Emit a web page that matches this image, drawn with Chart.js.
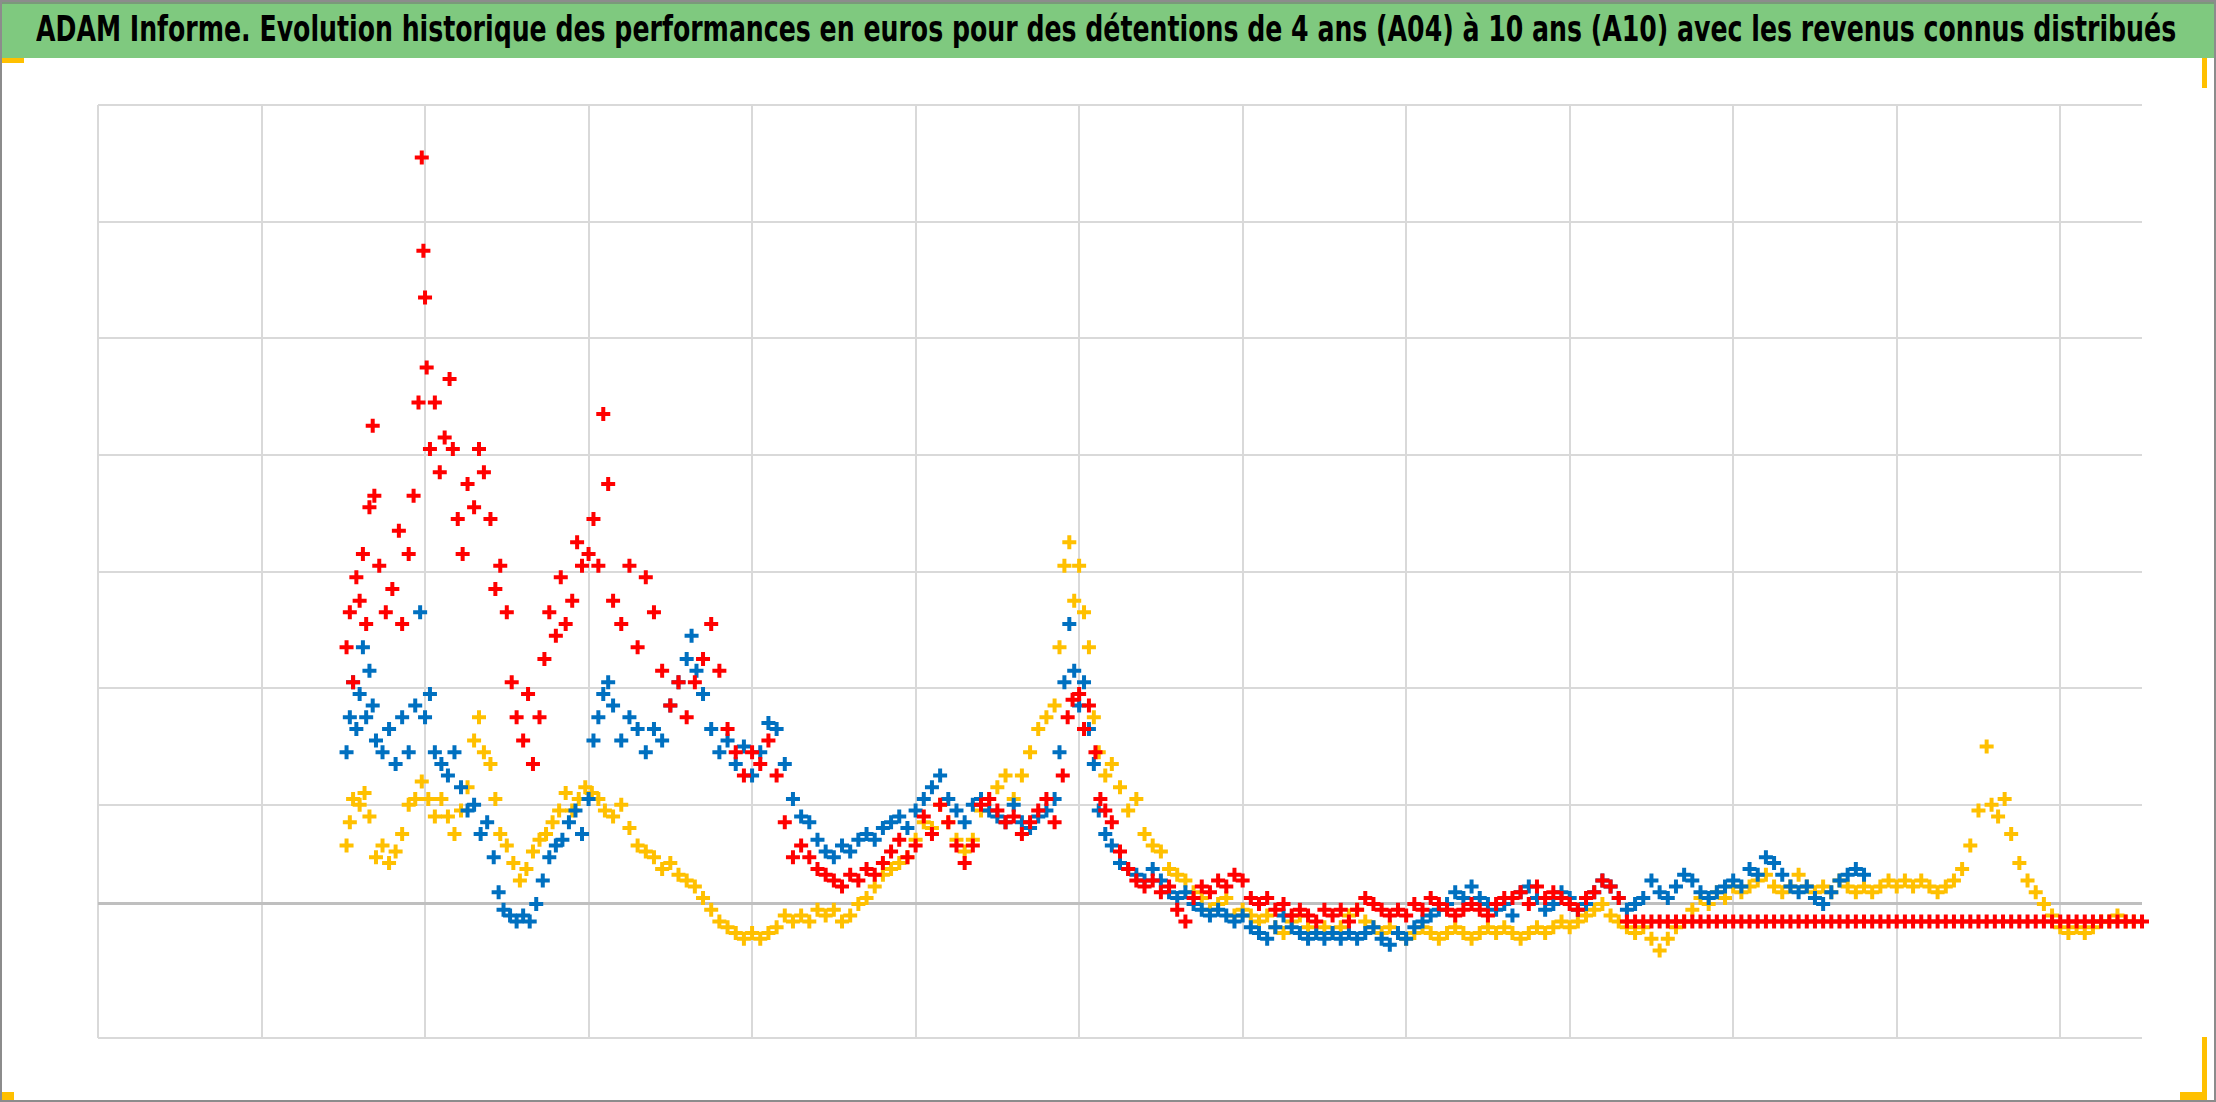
<!DOCTYPE html>
<html>
<head>
<meta charset="utf-8">
<script src="https://cdn.jsdelivr.net/npm/chart.js@4/dist/chart.umd.min.js"></script>
<style>
  html, body { margin: 0; padding: 0; background: #fff; }
  #page { position: relative; width: 2216px; height: 1102px; overflow: hidden; box-sizing: border-box; border: 2px solid #8c8c8c; }
  #title { position: absolute; left: 0; top: 0; width: 2216px; height: 56px; background: #7fc97f; border-top: 2px solid #7a9a7a; box-sizing: border-box; }
  #titleText { position: absolute; left: 34px; top: 4px; white-space: nowrap; font-family: "DejaVu Sans Condensed", "DejaVu Sans", sans-serif; font-weight: bold; font-size: 36px; color: #000; transform-origin: 0 0; }
  .mark { position: absolute; background: #ffc000; }
  #plot { position: absolute; left: 85px; top: 92px; width: 2066px; height: 955px; }
</style>
</head>
<body>
<div id="page">
  <div id="title"><div id="titleText">ADAM Informe. Evolution historique des performances en euros pour des détentions de 4 ans (A04) à 10 ans (A10) avec les revenus connus distribués</div></div>
  <div class="mark" style="left:0;top:56px;width:22px;height:5px"></div>
  <div class="mark" style="left:2200px;top:56px;width:5px;height:30px"></div>
  <div class="mark" style="left:2178px;top:1090px;width:27px;height:8px"></div>
  <div class="mark" style="left:2200px;top:1035px;width:5px;height:60px"></div>
  <div class="mark" style="left:0;top:1090px;width:12px;height:8px"></div>
  <div id="plot"><canvas id="chart"></canvas></div>
</div>
<script>
const yTicks = [-1.15, 0, 0.85, 1.85, 2.85, 3.85, 4.85, 5.85, 6.85]

const redPoints = [[1.52,2.2],[1.54,2.5],[1.56,1.9],[1.58,2.8],[1.6,2.6],[1.62,3.0],[1.64,2.4],[1.66,3.4],[1.68,4.1],[1.69,3.5],[1.72,2.9],[1.76,2.5],[1.8,2.7],[1.84,3.2],[1.86,2.4],[1.9,3.0],[1.93,3.5],[1.96,4.3],[1.98,6.4],[1.99,5.6],[2.0,5.2],[2.01,4.6],[2.03,3.9],[2.06,4.3],[2.09,3.7],[2.12,4.0],[2.15,4.5],[2.17,3.9],[2.2,3.3],[2.23,3.0],[2.26,3.6],[2.3,3.4],[2.33,3.9],[2.36,3.7],[2.4,3.3],[2.43,2.7],[2.46,2.9],[2.5,2.5],[2.53,1.9],[2.56,1.6],[2.6,1.4],[2.63,1.8],[2.66,1.2],[2.7,1.6],[2.73,2.1],[2.76,2.5],[2.8,2.3],[2.83,2.8],[2.86,2.4],[2.9,2.6],[2.93,3.1],[2.96,2.9],[3.0,3.0],[3.03,3.3],[3.06,2.9],[3.09,4.2],[3.12,3.6],[3.15,2.6],[3.2,2.4],[3.25,2.9],[3.3,2.2],[3.35,2.8],[3.4,2.5],[3.45,2.0],[3.5,1.7],[3.55,1.9],[3.6,1.6],[3.65,1.9],[3.7,2.1],[3.75,2.4],[3.8,2.0],[3.85,1.5],[3.9,1.3],[3.95,1.1],[4.0,1.3],[4.05,1.2],[4.1,1.4],[4.15,1.1],[4.2,0.7],[4.25,0.4],[4.3,0.5],[4.35,0.4],[4.4,0.3],[4.45,0.25],[4.5,0.2],[4.55,0.15],[4.6,0.25],[4.65,0.2],[4.7,0.3],[4.75,0.25],[4.8,0.35],[4.85,0.45],[4.9,0.55],[4.95,0.4],[5.0,0.5],[5.05,0.75],[5.1,0.6],[5.15,0.85],[5.2,0.7],[5.25,0.5],[5.3,0.35],[5.35,0.5],[5.4,0.85],[5.45,0.9],[5.5,0.8],[5.55,0.7],[5.6,0.75],[5.65,0.6],[5.7,0.7],[5.75,0.8],[5.8,0.9],[5.85,0.7],[5.9,1.1],[5.93,1.6],[5.96,1.75],[6.0,1.8],[6.03,1.5],[6.06,1.7],[6.1,1.3],[6.13,0.9],[6.16,0.8],[6.2,0.7],[6.25,0.45],[6.3,0.3],[6.35,0.2],[6.4,0.15],[6.45,0.2],[6.5,0.1],[6.55,0.15],[6.6,-0.05],[6.65,-0.15],[6.7,0.05],[6.75,0.15],[6.8,0.1],[6.85,0.2],[6.9,0.15],[6.95,0.25],[7.0,0.2],[7.05,0.05],[7.1,0.0],[7.15,0.05],[7.2,-0.05],[7.25,0.0],[7.3,-0.1],[7.35,-0.05],[7.4,-0.1],[7.45,-0.15],[7.5,-0.05],[7.55,-0.1],[7.6,-0.05],[7.65,-0.15],[7.7,-0.05],[7.75,0.05],[7.8,0.0],[7.85,-0.05],[7.9,-0.1],[7.95,-0.05],[8.0,-0.1],[8.05,0.0],[8.1,-0.05],[8.15,0.05],[8.2,0.0],[8.25,-0.05],[8.3,-0.1],[8.35,-0.05],[8.4,0.0],[8.45,-0.05],[8.5,-0.1],[8.55,0.0],[8.6,0.05],[8.65,0.05],[8.7,0.1],[8.75,0.0],[8.8,0.15],[8.85,0.05],[8.9,0.1],[8.95,0.05],[9.0,0.0],[9.05,-0.05],[9.1,0.05],[9.15,0.1],[9.2,0.2],[9.25,0.15],[9.3,0.05],
  [9.35,-0.15],[9.4,-0.15],[9.45,-0.15],[9.5,-0.15],[9.55,-0.15],[9.6,-0.15],[9.65,-0.15],[9.7,-0.15],[9.75,-0.15],[9.8,-0.15],[9.85,-0.15],[9.9,-0.15],[9.95,-0.15],[10.0,-0.15],[10.05,-0.15],[10.1,-0.15],[10.15,-0.15],[10.2,-0.15],[10.25,-0.15],[10.3,-0.15],[10.35,-0.15],[10.4,-0.15],[10.45,-0.15],[10.5,-0.15],[10.55,-0.15],[10.6,-0.15],[10.65,-0.15],[10.7,-0.15],[10.75,-0.15],[10.8,-0.15],[10.85,-0.15],[10.9,-0.15],[10.95,-0.15],[11.0,-0.15],[11.05,-0.15],[11.1,-0.15],[11.15,-0.15],[11.2,-0.15],[11.25,-0.15],[11.3,-0.15],[11.35,-0.15],[11.4,-0.15],[11.45,-0.15],[11.5,-0.15],[11.55,-0.15],[11.6,-0.15],[11.65,-0.15],[11.7,-0.15],[11.75,-0.15],[11.8,-0.15],[11.85,-0.15],[11.9,-0.15],[11.95,-0.15],[12.0,-0.15],[12.05,-0.15],[12.1,-0.15],[12.15,-0.15],[12.2,-0.15],[12.25,-0.15],[12.3,-0.15],[12.35,-0.15],[12.4,-0.15],[12.45,-0.15],[12.5,-0.15]]

const bluePoints = [[1.52,1.3],[1.54,1.6],[1.56,1.9],[1.58,1.5],[1.6,1.8],[1.62,2.2],[1.64,1.6],[1.66,2.0],[1.68,1.7],[1.7,1.4],[1.74,1.3],[1.78,1.5],[1.82,1.2],[1.86,1.6],[1.9,1.3],[1.94,1.7],[1.97,2.5],[2.0,1.6],[2.03,1.8],[2.06,1.3],[2.1,1.2],[2.14,1.1],[2.18,1.3],[2.22,1.0],[2.26,0.8],[2.3,0.85],[2.34,0.6],[2.38,0.7],[2.42,0.4],[2.45,0.1],[2.48,-0.05],[2.52,-0.1],[2.56,-0.15],[2.6,-0.1],[2.64,-0.15],[2.68,0.0],[2.72,0.2],[2.76,0.4],[2.8,0.5],[2.84,0.55],[2.88,0.7],[2.92,0.8],[2.96,0.6],[3.0,0.9],[3.03,1.4],[3.06,1.6],[3.09,1.8],[3.12,1.9],[3.15,1.7],[3.2,1.4],[3.25,1.6],[3.3,1.5],[3.35,1.3],[3.4,1.5],[3.45,1.4],[3.5,1.7],[3.55,1.9],[3.6,2.1],[3.63,2.3],[3.66,2.0],[3.7,1.8],[3.75,1.5],[3.8,1.3],[3.85,1.4],[3.9,1.2],[3.95,1.35],[4.0,1.1],[4.05,1.3],[4.1,1.55],[4.15,1.5],[4.2,1.2],[4.25,0.9],[4.3,0.75],[4.35,0.7],[4.4,0.55],[4.45,0.45],[4.5,0.4],[4.55,0.5],[4.6,0.45],[4.65,0.55],[4.7,0.6],[4.75,0.55],[4.8,0.65],[4.85,0.7],[4.9,0.75],[4.95,0.65],[5.0,0.8],[5.05,0.9],[5.1,1.0],[5.15,1.1],[5.2,0.9],[5.25,0.8],[5.3,0.7],[5.35,0.85],[5.4,0.9],[5.45,0.8],[5.5,0.75],[5.55,0.7],[5.6,0.85],[5.65,0.7],[5.7,0.65],[5.75,0.75],[5.8,0.8],[5.85,0.9],[5.88,1.3],[5.91,1.9],[5.94,2.4],[5.97,2.0],[6.0,1.7],[6.03,1.9],[6.06,1.5],[6.09,1.2],[6.12,0.8],[6.16,0.6],[6.2,0.5],[6.25,0.35],[6.3,0.3],[6.35,0.25],[6.4,0.2],[6.45,0.3],[6.5,0.2],[6.55,0.1],[6.6,0.05],[6.65,0.1],[6.7,0.0],[6.75,-0.05],[6.8,-0.1],[6.85,-0.05],[6.9,-0.1],[6.95,-0.15],[7.0,-0.1],[7.05,-0.2],[7.1,-0.25],[7.15,-0.3],[7.2,-0.2],[7.25,-0.1],[7.3,-0.2],[7.35,-0.25],[7.4,-0.3],[7.45,-0.25],[7.5,-0.3],[7.55,-0.25],[7.6,-0.3],[7.65,-0.25],[7.7,-0.3],[7.75,-0.25],[7.8,-0.2],[7.85,-0.3],[7.9,-0.35],[7.95,-0.25],[8.0,-0.3],[8.05,-0.2],[8.1,-0.15],[8.15,-0.1],[8.2,-0.05],[8.25,0.0],[8.3,0.1],[8.35,0.05],[8.4,0.15],[8.45,0.05],[8.5,0.0],[8.55,-0.05],[8.6,0.0],[8.65,-0.1],[8.7,0.1],[8.75,0.15],[8.8,0.05],[8.85,-0.05],[8.9,0.0],[8.95,0.1],[9.0,0.05],[9.05,-0.05],[9.1,0.0],[9.15,0.1],[9.2,0.2],[9.25,0.15],[9.3,0.05],[9.35,-0.05],[9.4,0.0],[9.45,0.05],[9.5,0.2],[9.55,0.1],[9.6,0.05],[9.65,0.15],[9.7,0.25],[9.75,0.2],[9.8,0.1],[9.85,0.05],[9.9,0.1],[9.95,0.15],[10.0,0.2],[10.05,0.15],[10.1,0.3],[10.15,0.25],[10.2,0.4],[10.25,0.35],[10.3,0.25],[10.35,0.15],[10.4,0.1],[10.45,0.15],[10.5,0.05],[10.55,0.0],[10.6,0.1],[10.65,0.2],[10.7,0.25],[10.75,0.3],[10.8,0.25]]

const yellowPoints = [[1.52,0.5],[1.54,0.7],[1.56,0.9],[1.6,0.85],[1.63,0.95],[1.66,0.75],[1.7,0.4],[1.74,0.5],[1.78,0.35],[1.82,0.45],[1.86,0.6],[1.9,0.85],[1.94,0.9],[1.98,1.05],[2.02,0.9],[2.06,0.75],[2.1,0.9],[2.14,0.75],[2.18,0.6],[2.22,0.8],[2.26,1.0],[2.3,1.4],[2.33,1.6],[2.36,1.3],[2.4,1.2],[2.43,0.9],[2.46,0.6],[2.5,0.5],[2.54,0.35],[2.58,0.2],[2.62,0.3],[2.66,0.45],[2.7,0.55],[2.74,0.6],[2.78,0.7],[2.82,0.8],[2.86,0.95],[2.9,0.8],[2.94,0.9],[2.98,1.0],[3.02,0.95],[3.06,0.9],[3.1,0.8],[3.15,0.75],[3.2,0.85],[3.25,0.65],[3.3,0.5],[3.35,0.45],[3.4,0.4],[3.45,0.3],[3.5,0.35],[3.55,0.25],[3.6,0.2],[3.65,0.15],[3.7,0.05],[3.75,-0.05],[3.8,-0.15],[3.85,-0.2],[3.9,-0.25],[3.95,-0.3],[4.0,-0.25],[4.05,-0.3],[4.1,-0.25],[4.15,-0.2],[4.2,-0.1],[4.25,-0.15],[4.3,-0.1],[4.35,-0.15],[4.4,-0.05],[4.45,-0.1],[4.5,-0.05],[4.55,-0.15],[4.6,-0.1],[4.65,0.0],[4.7,0.05],[4.75,0.15],[4.8,0.25],[4.85,0.3],[4.9,0.35],[4.95,0.4],[5.0,0.55],[5.05,0.7],[5.1,0.65],[5.15,0.85],[5.2,0.7],[5.25,0.55],[5.3,0.45],[5.35,0.55],[5.4,0.8],[5.45,0.9],[5.5,1.0],[5.55,1.1],[5.6,0.9],[5.65,1.1],[5.7,1.3],[5.75,1.5],[5.8,1.6],[5.85,1.7],[5.88,2.2],[5.91,2.9],[5.94,3.1],[5.97,2.6],[6.0,2.9],[6.03,2.5],[6.06,2.2],[6.09,1.6],[6.12,1.3],[6.16,1.1],[6.2,1.2],[6.25,1.0],[6.3,0.8],[6.35,0.9],[6.4,0.6],[6.45,0.5],[6.5,0.45],[6.55,0.3],[6.6,0.25],[6.65,0.2],[6.7,0.1],[6.75,0.05],[6.8,-0.05],[6.85,0.0],[6.9,0.05],[6.95,-0.1],[7.0,-0.05],[7.05,-0.1],[7.1,-0.15],[7.15,-0.1],[7.2,-0.2],[7.25,-0.25],[7.3,-0.15],[7.35,-0.1],[7.4,-0.2],[7.45,-0.25],[7.5,-0.2],[7.55,-0.25],[7.6,-0.2],[7.65,-0.1],[7.7,-0.05],[7.75,-0.15],[7.8,-0.2],[7.85,-0.25],[7.9,-0.2],[7.95,-0.25],[8.0,-0.3],[8.05,-0.25],[8.1,-0.2],[8.15,-0.25],[8.2,-0.3],[8.25,-0.25],[8.3,-0.2],[8.35,-0.25],[8.4,-0.3],[8.45,-0.25],[8.5,-0.2],[8.55,-0.25],[8.6,-0.2],[8.65,-0.25],[8.7,-0.3],[8.75,-0.25],[8.8,-0.2],[8.85,-0.25],[8.9,-0.2],[8.95,-0.15],[9.0,-0.2],[9.05,-0.15],[9.1,-0.1],[9.15,-0.05],[9.2,0.0],[9.25,-0.1],[9.3,-0.15],[9.35,-0.2],[9.4,-0.25],[9.45,-0.2],[9.5,-0.3],[9.55,-0.4],[9.6,-0.3],[9.65,-0.2],[9.7,-0.15],[9.75,-0.05],[9.8,0.05],[9.85,0.0],[9.9,0.1],[9.95,0.05],[10.0,0.15],[10.05,0.1],[10.1,0.15],[10.15,0.2],[10.2,0.25],[10.25,0.15],[10.3,0.1],[10.35,0.15],[10.4,0.25],[10.45,0.15],[10.5,0.1],[10.55,0.15],[10.6,0.1],[10.65,0.2],[10.7,0.15],[10.75,0.1],[10.8,0.15],[10.85,0.1],[10.9,0.15],[10.95,0.2],[11.0,0.15],[11.05,0.2],[11.1,0.15],[11.15,0.2],[11.2,0.15],[11.25,0.1],[11.3,0.15],[11.35,0.2],[11.4,0.3],[11.45,0.5],[11.5,0.8],[11.55,1.35],[11.58,0.85],[11.62,0.75],[11.66,0.9],[11.7,0.6],[11.75,0.35],[11.8,0.2],[11.85,0.1],[11.9,0.0],[11.95,-0.1],[12.0,-0.2],[12.05,-0.25],[12.1,-0.2],[12.15,-0.25],[12.2,-0.2],[12.25,-0.15],[12.3,-0.15],[12.35,-0.1],[12.4,-0.15],[12.45,-0.15]]

// fit the title into the green band
const titleText = document.getElementById("titleText")
titleText.style.transform = `scaleX(${2140 / titleText.scrollWidth})`

function toXY(points) {
    return points.map(([x, y]) => ({ x, y }))
}

function crossSet(label, points, color, order) {
    return {
        label,
        data: toXY(points),
        borderColor: color,
        backgroundColor: color,
        pointStyle: "cross",
        pointRadius: 7,
        pointBorderWidth: 4,
        showLine: false,
        order
    }
}

new Chart(document.getElementById("chart"), {
    type: "scatter",
    data: {
        datasets: [
            crossSet("A10", redPoints, "#ff0000", 1),
            crossSet("A07", bluePoints, "#0070c0", 2),
            crossSet("A04", yellowPoints, "#ffc000", 3)
        ]
    },
    options: {
        responsive: true,
        maintainAspectRatio: false,
        animation: false,
        clip: false,
        layout: { padding: 0 },
        plugins: { legend: { display: false }, tooltip: { enabled: false } },
        scales: {
            x: {
                type: "linear",
                min: 0,
                max: 12.5,
                ticks: { display: false, stepSize: 1 },
                border: { display: false },
                grid: {
                    drawTicks: false,
                    lineWidth: 2,
                    color: (ctx) => (ctx.tick && ctx.tick.value === 12.5 ? "rgba(0,0,0,0)" : "#d9d9d9")
                }
            },
            y: {
                min: -1.15,
                max: 6.85,
                afterBuildTicks: (axis) => {
                    axis.ticks = yTicks.map((value) => ({ value }))
                },
                ticks: { display: false },
                border: { display: false },
                grid: {
                    drawTicks: false,
                    lineWidth: (ctx) => (ctx.tick && ctx.tick.value === 0 ? 3 : 2),
                    color: (ctx) => (ctx.tick && ctx.tick.value === 0 ? "#bfbfbf" : "#d9d9d9")
                }
            }
        }
    }
})
</script>
</body>
</html>
